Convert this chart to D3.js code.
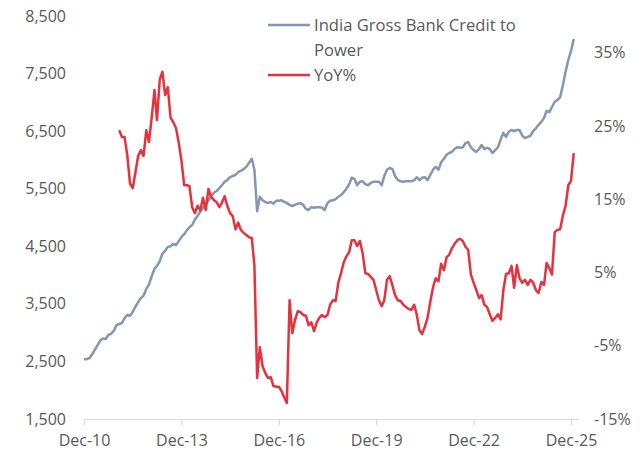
<!DOCTYPE html>
<html>
<head>
<meta charset="utf-8">
<script src="https://cdn.jsdelivr.net/npm/d3@7"></script>
<style>
  html, body { margin: 0; padding: 0; background: #ffffff; }
  svg { display: block; }
  text { font-family: "Open Sans", "DejaVu Sans", sans-serif; fill: #595959; }
</style>
</head>
<body>
<svg id="chart" width="644" height="454"></svg>
<script>
// Monthly series, Dec 2010 onwards
const startMonth = new Date(2010, 11, 1);
const endMonth = new Date(2026, 1, 1); // exclusive

// India gross bank credit to power (INR bn), Dec 2010 .. Jan 2026
const credit = [
  2540, 2540, 2560, 2620, 2700, 2780, 2860, 2900, 2890, 2960, 2980, 3030,
  3130, 3150, 3170, 3250, 3310, 3290, 3360, 3450, 3530, 3600, 3640, 3760,
  3840, 3980, 4110, 4160, 4240, 4370, 4420, 4490, 4500, 4540, 4520, 4590,
  4660, 4710, 4780, 4830, 4870, 4960, 5030, 5100, 5170, 5230, 5300, 5370,
  5430, 5460, 5510, 5560, 5620, 5650, 5700, 5720, 5740, 5790, 5810, 5840,
  5880, 5950, 6020, 5830, 5110, 5360, 5300, 5270, 5250, 5270, 5240, 5290,
  5290, 5300, 5270, 5250, 5220, 5200, 5220, 5240, 5250, 5220, 5150, 5130,
  5180, 5170, 5180, 5180, 5170, 5130, 5250, 5290, 5300, 5320, 5360, 5390,
  5440, 5500, 5580, 5690, 5670, 5560, 5620, 5630, 5580, 5560, 5600, 5620,
  5620, 5620, 5560, 5720, 5830, 5860, 5840, 5720, 5650, 5630, 5620, 5630,
  5630, 5630, 5650, 5700, 5650, 5690, 5700, 5650, 5740, 5830, 5880, 5830,
  5960, 6020, 6090, 6120, 6140, 6190, 6220, 6210, 6220, 6290, 6310, 6220,
  6170, 6140, 6190, 6260, 6190, 6210, 6190, 6120, 6170, 6220, 6350, 6470,
  6400, 6490, 6520, 6500, 6520, 6520, 6420, 6380, 6400, 6420, 6500, 6550,
  6610, 6660, 6730, 6850, 6830, 6920, 7010, 7040, 7090, 7300, 7530, 7740,
  7890, 8100
];

// Year-on-year growth (%), Jan 2012 .. Jan 2026
const yoyStartIndex = 13;
const yoy = [
  24.4, 23.5, 23.5, 21.0, 17.2, 16.5, 18.6, 20.9, 21.7, 20.9, 24.4,
  22.8, 26.2, 29.9, 25.8, 31.3, 32.4, 29.2, 30.3, 26.1, 25.5, 24.7, 22.7,
  20.3, 16.9, 16.9, 16.8, 13.9, 13.1, 14.1, 13.5, 15.2, 13.5, 16.4, 15.3,
  14.9, 14.6, 13.9, 14.5, 15.4, 14.1, 13.1, 12.7, 10.9, 11.8, 10.8, 10.4,
  10.1, 9.8, 9.7, 6.0, -9.4, -5.2, -7.8, -8.7, -9.4, -9.3, -10.5, -10.6,
  -10.6, -11.2, -12.1, -12.8, 1.2, -3.3, -1.5, -0.3, -0.4, -0.8, -0.9, -2.2,
  -1.8, -3.0, -1.8, -1.2, -0.8, -1.1, -0.8, 0.6, 1.2, 1.1, 3.6, 4.9,
  6.4, 7.2, 7.8, 9.4, 9.4, 8.6, 9.3, 7.7, 4.9, 4.8, 4.4, 4.0,
  2.6, 1.2, 0.4, 1.2, 4.0, 4.5, 3.2, 1.9, 1.2, 1.1, 0.6, 0.3,
  0.0, -0.1, 0.6, -0.7, -2.9, -3.4, -2.4, -1.2, 1.0, 3.0, 4.2, 3.8,
  6.2, 5.3, 7.1, 7.4, 8.3, 8.9, 9.4, 9.6, 9.3, 8.5, 8.1, 4.7,
  3.6, 2.6, 1.5, 1.9, 0.6, 0.3, -0.7, -1.6, -1.2, -0.7, -1.4, 2.6,
  4.8, 4.9, 5.9, 2.9, 6.0, 4.2, 3.6, 4.0, 3.3, 4.0, 3.6, 2.6,
  2.2, 3.7, 3.3, 6.3, 5.6, 4.7, 10.5, 10.8, 10.9, 12.8, 14.1, 16.9,
  17.5, 21.3
];

// Axis ticks
const leftTicks = [1500, 2500, 3500, 4500, 5500, 6500, 7500, 8500];
const rightTicks = [-15, -5, 5, 15, 25, 35];
const xTickYears = [2010, 2013, 2016, 2019, 2022, 2025];

const seriesNames = ["India Gross Bank Credit to Power", "YoY%"];
const colors = ["#8497b0", "#e5323f"];

const months = d3.timeMonth.range(startMonth, endMonth);

const svg = d3.select("#chart");
const plot = { left: 84, right: 579, top: 16, bottom: 419 };

const x = d3.scaleTime()
  .domain([startMonth, new Date(2026, 2, 1)])
  .range([plot.left, plot.right]);
const yLeft = d3.scaleLinear().domain([1500, 8500]).range([plot.bottom, plot.top]);
const yRight = d3.scaleLinear().domain([-15, 40]).range([plot.bottom, plot.top]);

// Bottom axis: light baseline with outward ticks
const xAxis = d3.axisBottom(x)
  .tickValues(xTickYears.map(y => new Date(y, 11, 1)))
  .tickFormat(d3.timeFormat("%b-%y"))
  .tickSizeInner(6)
  .tickSizeOuter(0)
  .tickPadding(6);
const gx = svg.append("g")
  .attr("transform", `translate(0,${plot.bottom})`)
  .call(xAxis);
gx.select(".domain").attr("stroke", "#d9d9d9").attr("stroke-width", 1.2);
gx.selectAll(".tick line").attr("stroke", "#d9d9d9").attr("stroke-width", 1.2);
gx.selectAll(".tick text").attr("font-size", 16).attr("fill", "#595959").attr("dy", "0.95em");

// Left axis: labels only
const gl = svg.append("g")
  .attr("transform", `translate(${plot.left},0)`)
  .call(d3.axisLeft(yLeft).tickValues(leftTicks).tickFormat(d3.format(",")).tickSize(0).tickPadding(18));
gl.select(".domain").remove();
gl.selectAll(".tick text").attr("font-size", 16).attr("fill", "#595959");

// Right axis: labels only
const gr = svg.append("g")
  .attr("transform", `translate(${plot.right},0)`)
  .call(d3.axisRight(yRight).tickValues(rightTicks).tickFormat(d => d + "%").tickSize(0).tickPadding(15));
gr.select(".domain").remove();
gr.selectAll(".tick text").attr("font-size", 16).attr("fill", "#595959");

// Lines
const creditLine = d3.line()
  .x((d, i) => x(months[i]))
  .y(d => yLeft(d));
const yoyLine = d3.line()
  .x((d, i) => x(months[i + yoyStartIndex]))
  .y(d => yRight(d));

svg.append("path")
  .datum(credit)
  .attr("d", creditLine)
  .attr("fill", "none")
  .attr("stroke", colors[0])
  .attr("stroke-width", 2.5)
  .attr("stroke-linejoin", "round");

svg.append("path")
  .datum(yoy)
  .attr("d", yoyLine)
  .attr("fill", "none")
  .attr("stroke", colors[1])
  .attr("stroke-width", 2.5)
  .attr("stroke-linejoin", "round");

// Legend
const legend = svg.append("g").attr("transform", "translate(268,25)");
legend.append("line").attr("x1", 0).attr("x2", 42).attr("y1", 0).attr("y2", 0)
  .attr("stroke", colors[0]).attr("stroke-width", 2.5);
legend.append("text").attr("x", 46).attr("y", 0).attr("dy", "0.35em").attr("font-size", 16.6)
  .text("India Gross Bank Credit to");
legend.append("text").attr("x", 46).attr("y", 25).attr("dy", "0.35em").attr("font-size", 16.6)
  .text("Power");
legend.append("line").attr("x1", 0).attr("x2", 42).attr("y1", 50).attr("y2", 50)
  .attr("stroke", colors[1]).attr("stroke-width", 2.5);
legend.append("text").attr("x", 46).attr("y", 50).attr("dy", "0.35em").attr("font-size", 16.6)
  .text(seriesNames[1]);
</script>
</body>
</html>
